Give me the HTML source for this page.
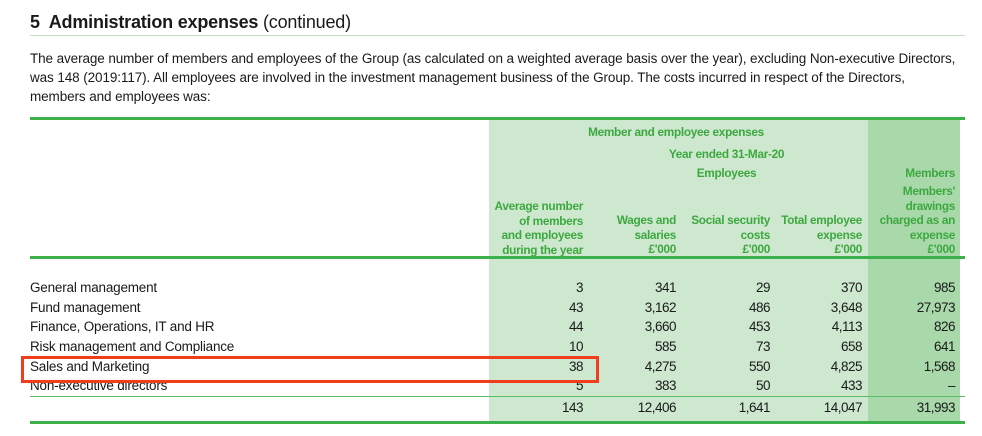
<!DOCTYPE html>
<html><head><meta charset="utf-8"><style>
body{margin:0;width:982px;height:436px;background:#fff;position:relative;overflow:hidden;font-family:"Liberation Sans",sans-serif;color:#1a1a1a}
.a{position:absolute;white-space:nowrap}
.p{font-size:13.5px;letter-spacing:-0.1px;left:30px}
.h{font-size:11.8px;font-weight:bold;color:#3da83f;letter-spacing:-0.3px;line-height:14.5px;text-align:right}
.lbl{font-size:13.5px;letter-spacing:-0.2px;left:30px}
.n{font-size:13.5px;letter-spacing:-0.5px;text-align:right;width:90px}
</style></head><body>
<div class="a" style="left:30px;top:12px;font-size:18px;letter-spacing:-0.2px"><b>5&nbsp; Administration expenses</b> (continued)</div>
<div class="a" style="left:30px;top:35px;width:935px;height:1px;background:#bfe3c2"></div>
<div class="a p" style="top:51px">The average number of members and employees of the Group (as calculated on a weighted average basis over the year), excluding Non-executive Directors,</div>
<div class="a p" style="top:70px">was 148 (2019:117). All employees are involved in the investment management business of the Group. The costs incurred in respect of the Directors,</div>
<div class="a p" style="top:89px">members and employees was:</div>

<div class="a" style="left:489px;top:118px;width:379px;height:306px;background:#cde8cf"></div>
<div class="a" style="left:868px;top:118px;width:92px;height:306px;background:#a9d9ab"></div>
<div class="a" style="left:30px;top:117px;width:935px;height:3px;background:#3cb04a"></div>
<div class="a" style="left:30px;top:256px;width:935px;height:3px;background:#3cb04a"></div>

<div class="a h" style="left:489px;width:374px;top:125px;text-align:center">Member and employee expenses</div>
<div class="a h" style="left:590px;width:273px;top:147px;text-align:center">Year ended 31-Mar-20</div>
<div class="a h" style="left:590px;width:273px;top:166px;text-align:center">Employees</div>
<div class="a h" style="right:27px;top:166px">Members</div>
<div class="a h" style="right:399px;top:199px">Average number<br>of members<br>and employees<br>during the year</div>
<div class="a h" style="right:306px;top:213px">Wages and<br>salaries<br>£'000</div>
<div class="a h" style="right:212px;top:213px">Social security<br>costs<br>£'000</div>
<div class="a h" style="right:120px;top:213px">Total employee<br>expense<br>£'000</div>
<div class="a h" style="right:27px;top:184px">Members'<br>drawings<br>charged as an<br>expense<br>£'000</div>

<div id="rows"></div>
<div class="a" style="left:30px;top:396px;width:935px;height:1px;background:#5cbc66"></div>
<div class="a" style="left:30px;top:421px;width:935px;height:3px;background:#3cb04a"></div>
<div class="a" style="left:21px;top:356px;width:572px;height:21px;border:3px solid #f23d1c"></div>

<script>
const labels=["General management","Fund management","Finance, Operations, IT and HR","Risk management and Compliance","Sales and Marketing","Non-executive directors",""];
const avgNum=["3","43","44","10","38","5","143"];
const wages=["341","3,162","3,660","585","4,275","383","12,406"];
const social=["29","486","453","73","550","50","1,641"];
const totalExp=["370","3,648","4,113","658","4,825","433","14,047"];
const members=["985","27,973","826","641","1,568","–","31,993"];
const cols=[avgNum,wages,social,totalExp,members];
const colRight=[583,676,770,862,955];
const colNames=['avg','wages','social','total','members'];
const tops=[280,300,319,339,359,378,400];
const c=document.getElementById('rows');
labels.forEach((l,i)=>{
  if(l){const d=document.createElement('div');d.className='a lbl';d.style.top=tops[i]+'px';d.textContent=l;
  
  
  c.appendChild(d);}
  cols.forEach((col,j)=>{const d=document.createElement('div');d.className='a n';d.style.top=tops[i]+'px';d.style.left=(colRight[j]-90)+'px';d.textContent=col[i];
  
  
  c.appendChild(d);});
});
</script>
</body></html>
